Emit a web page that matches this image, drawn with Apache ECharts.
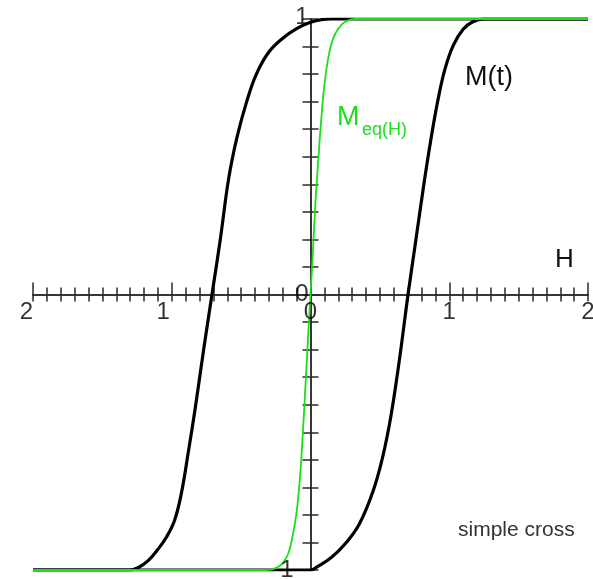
<!DOCTYPE html>
<html>
<head>
<meta charset="utf-8">
<script src="https://cdn.jsdelivr.net/npm/echarts@6/dist/echarts.min.js"></script>
<style>
  html, body { margin: 0; padding: 0; background: #ffffff; }
  #chart { width: 593px; height: 579px; }
</style>
</head>
<body>
<div id="chart"></div>
<script>
// Hysteresis loop M(t) and equilibrium magnetisation Meq(H), H in [-2, 2]
const hRange = [-2, 2];
const mRange = [-1, 1];
const xTickValues = [-2, -1, 0, 1, 2];
const xTickLabels = ['2', '1', '0', '1', '2'];
const yTickValues = [1, 0, -1];
const yTickLabels = ['1', '0', '1'];

// rising branch of the loop (H increasing)
const risingBranch = [
  [-2, -1], [0, -1], [0.05, -0.988], [0.15, -0.955], [0.25, -0.905],
  [0.35, -0.835], [0.45, -0.715], [0.52, -0.59], [0.58, -0.44],
  [0.64, -0.24], [0.703, 0], [0.76, 0.2], [0.82, 0.41], [0.87, 0.57],
  [0.92, 0.71], [0.97, 0.82], [1.03, 0.905], [1.1, 0.963], [1.17, 0.99],
  [1.25, 1], [2, 1]
];

// falling branch of the loop (H decreasing)
const fallingBranch = [
  [-2, -1], [-1.3, -1], [-1.24, -0.991], [-1.17, -0.966], [-1.1, -0.925],
  [-1.04, -0.882], [-0.98, -0.82], [-0.93, -0.72], [-0.88, -0.57],
  [-0.83, -0.41], [-0.77, -0.2], [-0.71, 0], [-0.65, 0.2], [-0.59, 0.42],
  [-0.53, 0.57], [-0.46, 0.7], [-0.39, 0.8], [-0.3, 0.88], [-0.2, 0.93],
  [-0.1, 0.965], [0, 0.988], [0.08, 0.998], [0.15, 1], [2, 1]
];

// equilibrium curve
const equilibriumCurve = [
  [-2, -1], [-0.32, -1], [-0.25, -0.993], [-0.2, -0.975], [-0.16, -0.94],
  [-0.13, -0.88], [-0.1, -0.79], [-0.075, -0.66], [-0.055, -0.5],
  [-0.035, -0.32], [-0.018, -0.16], [0, 0], [0.018, 0.16], [0.035, 0.33],
  [0.055, 0.48], [0.075, 0.62], [0.1, 0.76], [0.13, 0.865], [0.16, 0.925],
  [0.2, 0.965], [0.25, 0.99], [0.32, 1], [2, 1]
];

const FONT = '"Liberation Sans", Arial, Helvetica, sans-serif';
const axisColor = '#2a2a2a';
const labelColor = '#000000';
const lineStyleAxis = { color: axisColor, width: 1.5 };

const baseX = {
  type: 'value', min: hRange[0], max: hRange[1], interval: 1,
  splitLine: { show: false }, minorSplitLine: { show: false },
  axisLabel: { show: false }
};
const baseY = {
  type: 'value', min: mRange[0], max: mRange[1], interval: 1,
  splitLine: { show: false }, minorSplitLine: { show: false },
  axisLabel: { show: false }
};

// tick labels placed at the tick positions through the axes' scales
const xLabelData = xTickValues.map(function (v, i) {
  const item = { value: [v, 0], name: xTickLabels[i] };
  if (v < 0) {
    item.label = { align: 'right', offset: [v === hRange[0] ? 0 : -2, 0] };
  }
  return item;
});
const yLabelData = yTickValues.map(function (v, i) {
  const item = { value: [0, v], name: yTickLabels[i] };
  if (v === mRange[1]) item.label = { offset: [0, -2] };
  if (v === mRange[0]) item.label = { offset: [-15, 0] };
  return item;
});

const chart = echarts.init(document.getElementById('chart'), null, { renderer: 'canvas' });
chart.setOption({
  animation: false,
  backgroundColor: '#ffffff',
  grid: { left: 33, right: 5, top: 19, bottom: 9, containLabel: false, outerBoundsMode: 'none' },
  xAxis: [
    Object.assign({}, baseX, {
      position: 'bottom',
      axisLine: { onZero: true, lineStyle: lineStyleAxis },
      axisTick: { show: true, length: 7, lineStyle: lineStyleAxis },
      minorTick: { show: true, splitNumber: 10, length: 7, lineStyle: lineStyleAxis }
    }),
    Object.assign({}, baseX, {
      position: 'top',
      axisLine: { onZero: true, lineStyle: lineStyleAxis },
      axisTick: { show: true, length: 12, lineStyle: lineStyleAxis },
      minorTick: { show: true, splitNumber: 10, length: 7, lineStyle: lineStyleAxis }
    })
  ],
  yAxis: [
    Object.assign({}, baseY, {
      position: 'left',
      axisLine: { onZero: true, lineStyle: lineStyleAxis },
      axisTick: { show: true, length: 8, lineStyle: lineStyleAxis },
      minorTick: { show: true, splitNumber: 10, length: 8, lineStyle: lineStyleAxis }
    }),
    Object.assign({}, baseY, {
      position: 'right',
      axisLine: { onZero: true, lineStyle: lineStyleAxis },
      axisTick: { show: true, length: 8, lineStyle: lineStyleAxis },
      minorTick: { show: true, splitNumber: 10, length: 8, lineStyle: lineStyleAxis }
    })
  ],
  series: [
    {
      name: 'M(t) rising', type: 'line', data: risingBranch, smooth: 0.4,
      showSymbol: false, symbol: 'none', z: 3,
      lineStyle: { color: '#000000', width: 3.2 }
    },
    {
      name: 'M(t) falling', type: 'line', data: fallingBranch, smooth: 0.4,
      showSymbol: false, symbol: 'none', z: 3,
      lineStyle: { color: '#000000', width: 3.2 }
    },
    {
      name: 'Meq(H)', type: 'line', data: equilibriumCurve, smooth: 0.4,
      showSymbol: false, symbol: 'none', z: 4,
      lineStyle: { color: '#19e019', width: 1.8 }
    },
    {
      name: 'H ticks', type: 'scatter', data: xLabelData, symbolSize: 0, silent: true, z: 5,
      label: { show: true, position: 'bottom', distance: 6, formatter: '{b}',
               fontSize: 24, fontFamily: FONT, color: labelColor }
    },
    {
      name: 'M ticks', type: 'scatter', data: yLabelData, symbolSize: 0, silent: true, z: 5,
      label: { show: true, position: 'left', distance: 2, formatter: '{b}',
               fontSize: 24, fontFamily: FONT, color: labelColor }
    }
  ],
  graphic: [
    { type: 'text', left: 465, top: 64, z: 10,
      style: { text: 'M(t)', font: '27px ' + FONT, fill: '#111' } },
    { type: 'text', left: 337, top: 104, z: 10,
      style: { text: 'M', font: '27px ' + FONT, fill: '#19e019' } },
    { type: 'text', left: 362, top: 121, z: 10,
      style: { text: 'eq(H)', font: '18px ' + FONT, fill: '#19e019' } },
    { type: 'text', left: 555, top: 247, z: 10,
      style: { text: 'H', font: '26px ' + FONT, fill: '#111' } },
    { type: 'text', left: 458, top: 520, z: 10,
      style: { text: 'simple cross', font: '21px ' + FONT, fill: '#333' } }
  ]
});
</script>
</body>
</html>
